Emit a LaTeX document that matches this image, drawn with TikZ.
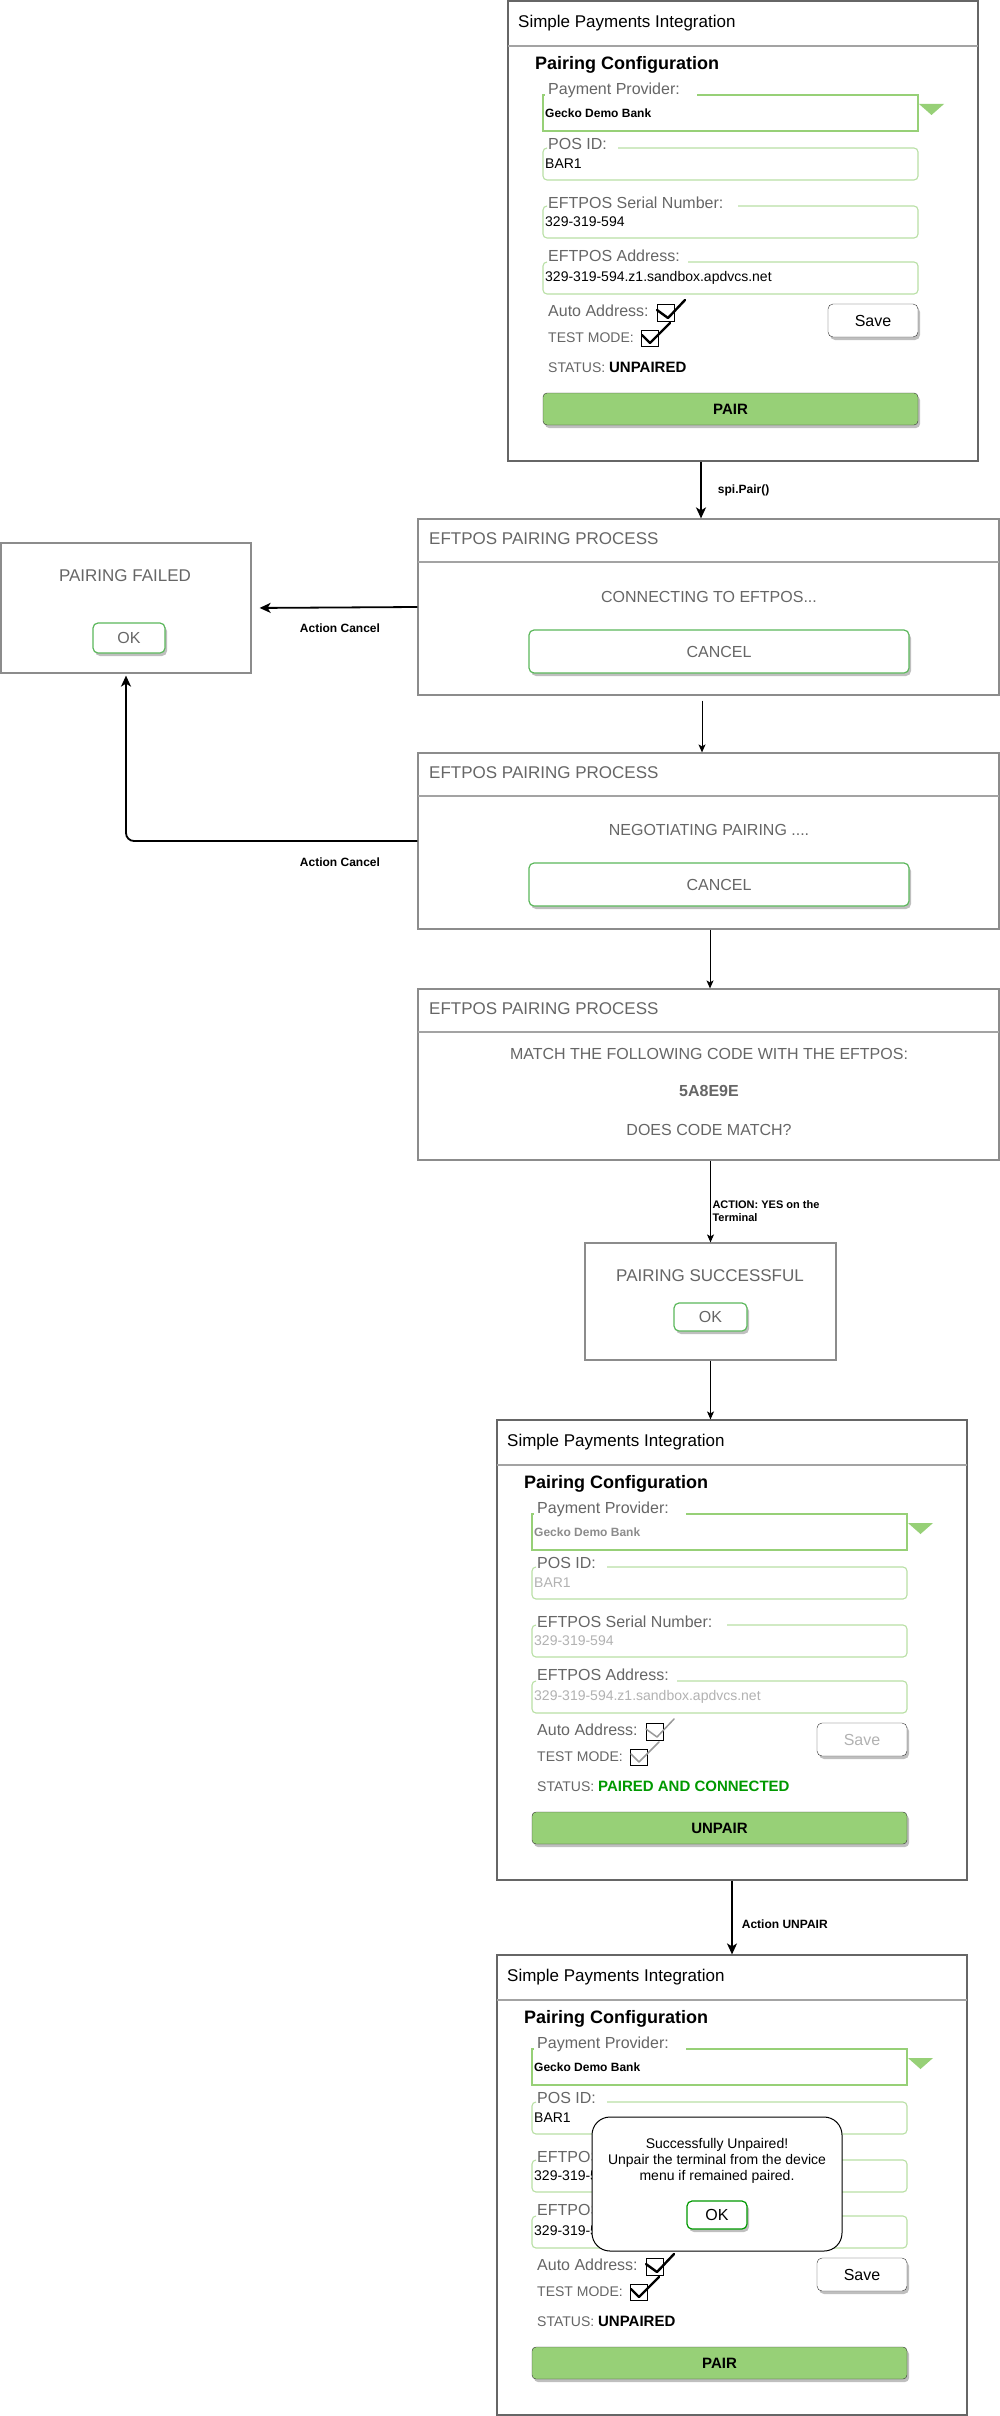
\documentclass[tikz,border=0pt]{standalone}
\usepackage{fontspec}
\setmainfont{Liberation Sans}
\usetikzlibrary{arrows.meta,shadows}
\definecolor{lblgray}{HTML}{666666}
\definecolor{fieldgreen}{HTML}{97D077}
\definecolor{fieldlight}{HTML}{B9E0A5}
\definecolor{okgreen}{HTML}{5CB85C}
\definecolor{pairedgreen}{HTML}{009900}
\definecolor{framegray}{HTML}{666666}
\definecolor{procgray}{HTML}{8C8C8C}
\newcommand{\fs}[2]{\fontsize{#1}{#2}\selectfont}
% #1 name, #2 shift, #3 value colour, #4 provider colour, #5 tick, #6 status, #7 button, #8 save colour
\newcommand{\cfgwin}[8]{%
\begin{scope}[shift={#2}]
	\node[win] (#1) at (235,230) {};
	\draw[sep] (0,45) -- (470,45);
	\node[txt, anchor=west, font=\fs{17}{20}] (#1-title) at (10,23) {Simple Payments Integration};
	\node[txt, anchor=west, font=\bfseries\fs{18}{21}] (#1-head) at (27,65) {Pairing Configuration};
	\draw[field] (189,94) -- (410,94) -- (410,130) -- (35,130) -- (35,94) -- (37,94);
	\fill[fieldgreen] (411,103) -- (436,103) -- (423.5,114) -- cycle;
	\foreach \t/\g in {147/110, 205/230, 261/180}{
		\draw[fieldr] (\g,\t) -- (410,\t) -- (410,\t+32) -- (35,\t+32) -- (35,\t) -- (39,\t);
	}
	\node[lbl] (#1-prov) at (40,90) {Payment Provider:};
	\node[lbl] (#1-pos) at (40,145) {POS ID:};
	\node[lbl] (#1-serial) at (40,204) {EFTPOS Serial Number:};
	\node[lbl] (#1-addr) at (40,257) {EFTPOS Address:};
	\node[val, font=\bfseries\fs{12}{14}, text=#4] (#1-provval) at (37,113) {Gecko Demo Bank};
	\node[val, text=#3] (#1-posval) at (37,164) {BAR1};
	\node[val, text=#3] (#1-serialval) at (37,222) {329-319-594};
	\node[val, text=#3] (#1-addrval) at (37,277) {329-319-594.z1.sandbox.apdvcs.net};
	\node[lbl] (#1-auto) at (40,312) {Auto Address:};
	\draw[chkbox] (149,303) rectangle (166,320);
	\draw[tick, #5] (149,309) -- (160,317) -- (177,299);
	\node[lbl, font=\fs{14}{16}] (#1-test) at (40,338) {TEST MODE:};
	\draw[chkbox] (133,329) rectangle (150,345);
	\draw[tick, #5] (134,334) -- (142,342) -- (162,322);
	\node[savebtn, text=#8] (#1-save) at (365,319.5) {Save};
	\node[txt, anchor=west, font=\fs{14}{16}] (#1-status) at (40,368) {\textcolor{lblgray}{STATUS:} #6};
	\node[mainbtn] (#1-btn) at (222.5,408) {#7};
\end{scope}}

\begin{document}
\begin{tikzpicture}[x=1pt,y=-1pt,
	txt/.style={inner sep=0pt, text height=.72em, text depth=0pt},
	lbl/.style={txt, anchor=west, text=lblgray, font=\fs{16}{19}},
	val/.style={txt, anchor=west, font=\fs{14}{16}},
	msg/.style={txt, text=lblgray, font=\fs{16}{19}},
	ttl/.style={txt, anchor=west, text=lblgray, font=\fs{17}{20}},
	edgelbl/.style={txt, font=\bfseries\fs{12}{14}},
	win/.style={draw=framegray, line width=1.2pt, minimum width=470, minimum height=460, inner sep=0pt},
	proc/.style={draw=procgray, line width=1.2pt, minimum width=581, inner sep=0pt},
	sep/.style={draw=procgray!80, line width=1.2pt},
	field/.style={draw=fieldgreen, line width=1.6pt},
	fieldr/.style={draw=fieldlight, line width=1.1pt, rounded corners=4pt},
	chkbox/.style={draw=black, line width=1pt},
	tick/.style={line cap=round, line join=round},
	shade/.style={drop shadow={shadow xshift=2pt, shadow yshift=-3pt, opacity=.25, fill=black}},
	savebtn/.style={draw=black!80, fill=white, rounded corners=5pt, minimum width=90, minimum height=33, inner sep=0pt, font=\fs{16}{19}, shade},
	mainbtn/.style={draw=black!80, fill=fieldgreen, rounded corners=4pt, minimum width=375, minimum height=32, inner sep=0pt, font=\bfseries\fs{15}{18}, shade},
	cancelbtn/.style={draw=okgreen, line width=1.2pt, fill=white, rounded corners=5pt, minimum width=380, minimum height=43, inner sep=0pt, text=lblgray, font=\fs{16}{19}, shade},
	okbtn/.style={cancelbtn, minimum width=72, minimum height=30},
	flow/.style={-{Stealth[length=11pt,width=10pt,inset=3pt]}, line width=1.8pt},
	thin/.style={-{Stealth[length=8pt,width=7pt,inset=2pt]}, line width=1pt}]
	\fill[white] (0,0) rectangle (1000,2416);
	\useasboundingbox (0,0) rectangle (1000,2416);
	% configuration windows
	\cfgwin{win1}{(508,1)}{black}{black}{draw=black, line width=2.4pt}{{\fs{15}{17}\bfseries UNPAIRED}}{PAIR}{black}
	\cfgwin{win2}{(497,1420)}{black!30}{black!45}{draw=black!40, line width=1.5pt}{{\fs{15}{17}\bfseries\color{pairedgreen}PAIRED AND CONNECTED}}{UNPAIR}{black!30}
	\cfgwin{win3}{(497,1955)}{black}{black}{draw=black, line width=2.4pt}{{\fs{15}{17}\bfseries UNPAIRED}}{PAIR}{black}
	% pairing process
	\foreach \n/\y/\h in {conn/519/176, nego/753/176, match/989/171}{
		\node[proc, minimum height=\h] (\n) at (708.5,{\y+\h/2}) {};
		\draw[sep] (418,\y+43) -- (999,\y+43);
		\node[ttl] (\n-title) at (429,\y+22) {EFTPOS PAIRING PROCESS};
	}
	\node[msg] (connmsg) at (709,599) {CONNECTING TO EFTPOS...};
	\node[cancelbtn] (conncancel) at (719,651.5) {CANCEL};
	\node[msg] (negomsg) at (709,832) {NEGOTIATING PAIRING ....};
	\node[cancelbtn] (negocancel) at (719,884.5) {CANCEL};
	\node[msg] (matchmsg) at (709,1056) {MATCH THE FOLLOWING CODE WITH THE EFTPOS:};
	\node[msg, font=\bfseries\fs{16}{19}] (matchcode) at (709,1093) {5A8E9E};
	\node[msg] (matchask) at (709,1132) {DOES CODE MATCH?};
	% result boxes
	\node[proc, minimum width=250, minimum height=130] (failed) at (126,608) {};
	\node[msg, font=\fs{17}{20}] (failedmsg) at (125,578) {PAIRING FAILED};
	\node[okbtn] (failedok) at (129,638) {OK};
	\node[proc, minimum width=251, minimum height=117] (success) at (710.5,1301.5) {};
	\node[msg, font=\fs{17}{20}] (successmsg) at (710,1278) {PAIRING SUCCESSFUL};
	\node[okbtn, minimum width=73, minimum height=28] (successok) at (710.5,1317) {OK};
	% unpaired dialog
	\node[draw=black, line width=1pt, fill=white, rounded corners=18pt, minimum width=250, minimum height=134] (unpaired) at (717,2184) {};
	\node[inner sep=0pt, align=center, font=\fs{14}{16}] (unpairedmsg) at (717,2161) {Successfully Unpaired!\\Unpair the terminal from the device\\menu if remained paired.};
	\node[okbtn, draw=pairedgreen, text=black, minimum width=60, minimum height=28] (unpairedok) at (717,2215) {OK};
	% connectors
	\draw[flow] ([xshift=-42]win1.south) -- node[edgelbl, anchor=west, xshift=16] (pairlbl) {spi.Pair()} ([xshift=-7.5]conn.north);
	\draw[flow, shorten >=8pt] (conn.west) -- (failed.east);
	\node[edgelbl] (cancellblA) at (340,629) {Action Cancel};
	\draw[thin, shorten <=5pt] ([xshift=-6.5]conn.south) -- ([xshift=-6.5]nego.north);
	\draw[flow, rounded corners=8pt, shorten >=2pt] (nego.west) -| (failed.south);
	\node[edgelbl] (cancellblB) at (340,863) {Action Cancel};
	\draw[thin] ([xshift=1.5]nego.south) -- ([xshift=1.5]match.north);
	\draw[thin] (match.south -| success.north) -- node[inner sep=0pt, anchor=north west, xshift=1.5, yshift=1, align=left, font=\bfseries\fs{11}{13}] (yeslbl) {ACTION: YES on the\\Terminal} (success.north);
	\draw[thin] (success.south) -- (success.south |- win2.north);
	\draw[flow] (win2.south) -- node[edgelbl, anchor=west, xshift=9, yshift=-7] (unpairlbl) {Action UNPAIR} (win3.north);
\end{tikzpicture}
\end{document}
